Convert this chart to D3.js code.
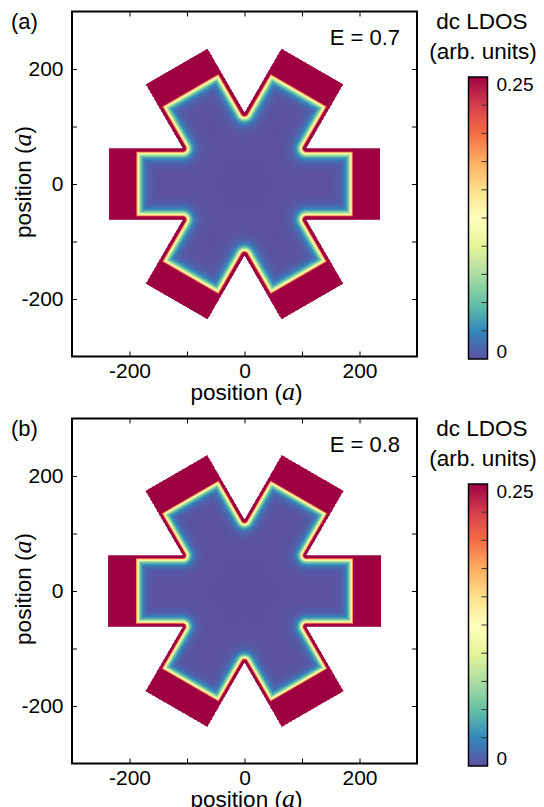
<!DOCTYPE html>
<html><head><meta charset="utf-8">
<script src="https://cdn.jsdelivr.net/npm/d3@7"></script>
<style>html,body{margin:0;padding:0;background:#fff;} svg{display:block;}</style>
</head><body>
<svg id="chart" width="544" height="807"></svg>
<script>
// ---------- data ----------
const panelLabels = ["(a)", "(b)"];
const energies = [0.7, 0.8];
const armDirections = [0, 60, 120, 180, 240, 300];   // half-arm directions (deg)
const armHalfWidth = [62, 62];                        // sample half width (a)
const armOuterLength = [236, 237];                    // tip of lead region (a)
const armLeadStart = [194, 194];                      // where the lead begins (a)
const edgeDecayLength = [5.2, 4.8];                   // edge-state decay (a)
const edgePeakLDOS = [0.62, 0.6];
const edgeTailLength = [14, 13];                      // weak long tail (a)
const edgeTailLDOS = [0.032, 0.03];
const leadLDOS = [0.3, 0.3];
const axisTicks = [-200, -100, 0, 100, 200];
const axisTickLabels = ["-200", "", "0", "", "200"];
const cbTicks = [0, 0.025, 0.05, 0.075, 0.1, 0.125, 0.15, 0.175, 0.2, 0.225, 0.25];
const cbTickLabels = ["0", "", "", "", "", "", "", "", "", "", "0.25"];
const positionLimits = [-300, 300];
const ldosLimits = [0, 0.25];

// ---------- layout ----------
const font = "'Liberation Sans', Arial, Helvetica, sans-serif";
const svg = d3.select("#chart");
const panelOffset = 407;
const plotBox = {left: 72, right: 417, top: 11.5, bottom: 356.5};
const cbBox = {left: 468.5, right: 487.5, top: 77, bottom: 359};

const spectral = d3.schemeSpectral[11].slice().reverse();
const color = d3.scaleLinear()
  .domain(spectral.map((c, i) => ldosLimits[0] + (ldosLimits[1] - ldosLimits[0]) * i / (spectral.length - 1)))
  .range(spectral).interpolate(d3.interpolateRgb).clamp(true);

const LUT_N = 1024;
const lut = d3.range(LUT_N).map(i => d3.rgb(color(ldosLimits[0] + (ldosLimits[1] - ldosLimits[0]) * i / (LUT_N - 1))));

function starPolygon(halfWidth, reach) {
  const pts = [];
  armDirections.forEach(deg => {
    const t = deg * Math.PI / 180, tn = (deg - 30) * Math.PI / 180;
    const u = [Math.cos(t), Math.sin(t)], n = [-Math.sin(t), Math.cos(t)];
    pts.push([2 * halfWidth * Math.cos(tn), 2 * halfWidth * Math.sin(tn)]);
    pts.push([reach * u[0] - halfWidth * n[0], reach * u[1] - halfWidth * n[1]]);
    pts.push([reach * u[0] + halfWidth * n[0], reach * u[1] + halfWidth * n[1]]);
  });
  return pts;
}

function edgeDistance(px, py, segs) {
  let best = Infinity;
  for (const s of segs) {
    let t = ((px - s[0]) * s[2] + (py - s[1]) * s[3]) / s[4];
    t = t < 0 ? 0 : (t > 1 ? 1 : t);
    const ex = s[0] + t * s[2] - px, ey = s[1] + t * s[3] - py;
    const d2 = ex * ex + ey * ey;
    if (d2 < best) best = d2;
  }
  return Math.sqrt(best);
}

function fieldImage(k) {
  const N = positionLimits[1] - positionLimits[0];   // one lattice site per cell
  const outer = starPolygon(armHalfWidth[k], armOuterLength[k]);
  const sample = starPolygon(armHalfWidth[k], armLeadStart[k]);
  const segs = sample.map((p, i) => {
    const q = sample[(i + 1) % sample.length];
    const dx = q[0] - p[0], dy = q[1] - p[1];
    return [p[0], p[1], dx, dy, dx * dx + dy * dy];
  });
  const reach = armOuterLength[k] + armHalfWidth[k];
  const canvas = document.createElement("canvas");
  canvas.width = N; canvas.height = N;
  const ctx = canvas.getContext("2d");
  const img = ctx.createImageData(N, N);
  for (let j = 0; j < N; j++) {
    const cy = positionLimits[1] - (j + 0.5);
    for (let i = 0; i < N; i++) {
      const cx = positionLimits[0] + (i + 0.5);
      if (Math.abs(cx) > reach || Math.abs(cy) > reach) continue;
      if (!d3.polygonContains(outer, [cx, cy])) continue;
      let v;
      if (!d3.polygonContains(sample, [cx, cy])) v = leadLDOS[k];
      else {
        const d = edgeDistance(cx, cy, segs);
        v = edgePeakLDOS[k] * Math.exp(-d / edgeDecayLength[k]) + edgeTailLDOS[k] * Math.exp(-d / edgeTailLength[k]);
      }
      let li = Math.round((v - ldosLimits[0]) / (ldosLimits[1] - ldosLimits[0]) * (LUT_N - 1));
      li = Math.max(0, Math.min(LUT_N - 1, li));
      const c = lut[li], o = (j * N + i) * 4;
      img.data[o] = c.r; img.data[o + 1] = c.g; img.data[o + 2] = c.b; img.data[o + 3] = 255;
    }
  }
  ctx.putImageData(img, 0, 0);
  return canvas.toDataURL();
}

const defs = svg.append("defs");
const grad = defs.append("linearGradient").attr("id", "cbgrad")
  .attr("x1", 0).attr("y1", 1).attr("x2", 0).attr("y2", 0);
spectral.forEach((c, i) => grad.append("stop").attr("offset", i / (spectral.length - 1)).attr("stop-color", c));

panelLabels.forEach((label, k) => {
  const dy = k * panelOffset;
  const x = d3.scaleLinear().domain(positionLimits).range([plotBox.left, plotBox.right]);
  const y = d3.scaleLinear().domain(positionLimits).range([plotBox.bottom + dy, plotBox.top + dy]);
  const g = svg.append("g");

  g.append("image")
    .attr("href", fieldImage(k))
    .attr("x", x(positionLimits[0])).attr("y", y(positionLimits[1]))
    .attr("width", x(positionLimits[1]) - x(positionLimits[0]))
    .attr("height", y(positionLimits[0]) - y(positionLimits[1]))
    .attr("preserveAspectRatio", "none");

  const fmt = v => axisTickLabels[axisTicks.indexOf(v)];
  const styleAxis = sel => {
    sel.select(".domain").remove();
    sel.selectAll(".tick line").attr("stroke", "#000").attr("stroke-width", 1);
    sel.selectAll(".tick text").attr("font-family", font).attr("font-size", 21).attr("fill", "#000");
  };
  g.append("g").attr("transform", `translate(0,${y(positionLimits[0])})`)
    .call(d3.axisBottom(x).tickValues(axisTicks).tickFormat(fmt).tickSizeInner(-5).tickSizeOuter(0).tickPadding(6.5))
    .call(styleAxis);
  g.append("g").attr("transform", `translate(0,${y(positionLimits[1])})`)
    .call(d3.axisTop(x).tickValues(axisTicks).tickFormat("").tickSizeInner(-5).tickSizeOuter(0))
    .call(styleAxis);
  g.append("g").attr("transform", `translate(${x(positionLimits[0])},0)`)
    .call(d3.axisLeft(y).tickValues(axisTicks).tickFormat(fmt).tickSizeInner(-5).tickSizeOuter(0).tickPadding(8.5))
    .call(styleAxis)
    .selectAll(".tick text").attr("dy", "0.3em");
  g.append("g").attr("transform", `translate(${x(positionLimits[1])},0)`)
    .call(d3.axisRight(y).tickValues(axisTicks).tickFormat("").tickSizeInner(-5).tickSizeOuter(0))
    .call(styleAxis);

  g.append("rect")
    .attr("x", x(positionLimits[0])).attr("y", y(positionLimits[1]))
    .attr("width", x(positionLimits[1]) - x(positionLimits[0]))
    .attr("height", y(positionLimits[0]) - y(positionLimits[1]))
    .attr("fill", "none").attr("stroke", "#000").attr("stroke-width", 2);

  g.append("text").attr("x", 11).attr("y", 29 + dy)
    .attr("font-family", font).attr("font-size", 22).text(label);
  g.append("text").attr("x", 400).attr("y", 44.5 + dy).attr("text-anchor", "end")
    .attr("font-family", font).attr("font-size", 22).text("E = " + energies[k]);

  const xl = g.append("text").attr("x", 246.5).attr("y", 400 + dy).attr("text-anchor", "middle")
    .attr("font-family", font).attr("font-size", 22.5);
  xl.append("tspan").text("position (");
  xl.append("tspan").attr("font-family", "'Liberation Serif', 'DejaVu Serif', serif").attr("font-style", "italic").attr("font-size", 26).text("a");
  xl.append("tspan").text(")");

  const yl = g.append("text").attr("transform", `translate(31,${182 + dy}) rotate(-90)`).attr("text-anchor", "middle")
    .attr("font-family", font).attr("font-size", 22.5);
  yl.append("tspan").text("position (");
  yl.append("tspan").attr("font-family", "'Liberation Serif', 'DejaVu Serif', serif").attr("font-style", "italic").attr("font-size", 26).text("a");
  yl.append("tspan").text(")");

  const cb = d3.scaleLinear().domain(ldosLimits).range([cbBox.bottom + dy, cbBox.top + dy]);
  g.append("text").attr("x", 482).attr("y", 29.3 + dy).attr("text-anchor", "middle")
    .attr("font-family", font).attr("font-size", 22.5).text("dc LDOS");
  g.append("text").attr("x", 483).attr("y", 58.5 + dy).attr("text-anchor", "middle")
    .attr("font-family", font).attr("font-size", 22.5).text("(arb. units)");
  g.append("rect").attr("x", cbBox.left).attr("y", cb(ldosLimits[1]))
    .attr("width", cbBox.right - cbBox.left).attr("height", cb(ldosLimits[0]) - cb(ldosLimits[1]))
    .attr("fill", "url(#cbgrad)");
  g.selectAll(".cbtick").data(cbTicks.slice(1, -1)).join("line")
    .attr("x1", cbBox.right - 6).attr("x2", cbBox.right)
    .attr("y1", d => cb(d)).attr("y2", d => cb(d))
    .attr("stroke", "#333").attr("stroke-width", 1);
  g.append("rect").attr("x", cbBox.left).attr("y", cb(ldosLimits[1]))
    .attr("width", cbBox.right - cbBox.left).attr("height", cb(ldosLimits[0]) - cb(ldosLimits[1]))
    .attr("fill", "none").attr("stroke", "#000").attr("stroke-width", 1.5);
  cbTicks.forEach((v, i) => {
    if (!cbTickLabels[i]) return;
    const atTop = v === ldosLimits[1];
    g.append("text").attr("x", cbBox.right + 9).attr("y", cb(v) + (atTop ? 14 : -1))
      .attr("font-family", font).attr("font-size", 19).text(cbTickLabels[i]);
  });
});
</script>
</body></html>
